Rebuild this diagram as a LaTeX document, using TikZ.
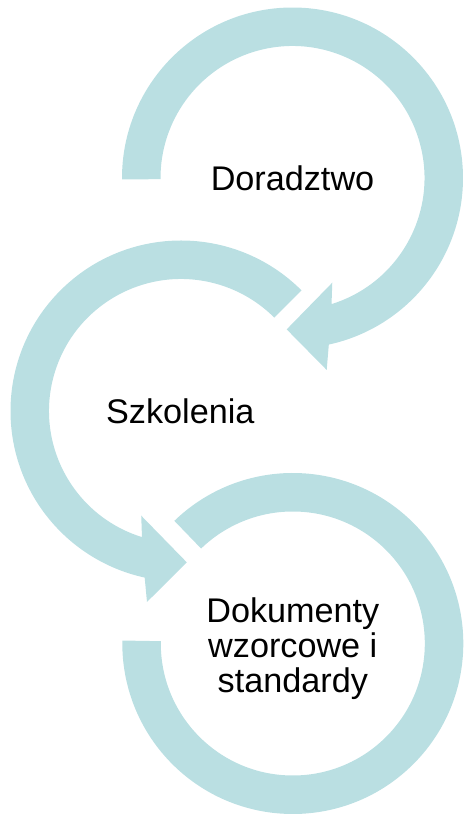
\documentclass[tikz,border=0pt]{standalone}
\usepackage{fontspec}
\setmainfont{Liberation Sans}
\definecolor{arcteal}{RGB}{186,223,226}
\begin{document}
\begin{tikzpicture}[x=1pt,y=1pt,
  arcfill/.style={fill=arcteal,draw=none},
  lbl/.style={inner sep=0pt,font=\fontsize{34.2}{35}\selectfont,text=black,align=center}]
\useasboundingbox (0,0) rectangle (464,814);
\coordinate (C1) at (292.5,636);
\coordinate (C2) at (181,403);
\coordinate (C3) at (292.8,170.5);
% arc 1 (Doradztwo)
\begin{scope}[shift={(C1)}]
\fill[arcfill] (180.5:170.5) arc[start angle=180.5, end angle=-77.7, radius=170.5]
  -- (-79.9:195) -- (-92.2:151.5) -- (-69.2:112) -- (-72.8:132)
  arc[start angle=-72.8, end angle=180.5, radius=132] -- cycle;
\end{scope}
% arc 2 (Szkolenia)
\begin{scope}[shift={(C2)}]
\fill[arcfill] (45:170.5) arc[start angle=45, end angle=257.7, radius=170.5]
  -- (259.9:194) -- (272.2:151.5) -- (249.2:112) -- (252.8:132)
  arc[start angle=252.8, end angle=45, radius=132] -- cycle;
\end{scope}
% arc 3 (Dokumenty)
\begin{scope}[shift={(C3)}]
\fill[arcfill] (134:170.5) arc[start angle=134, end angle=-181, radius=170.5]
  -- (-181:132) arc[start angle=-181, end angle=134, radius=132] -- cycle;
\end{scope}
\node[lbl,anchor=base] (t1) at (292.5,623.3) {Doradztwo};
\node[lbl,anchor=base] (t2) at (180.3,390) {Szkolenia};
\node[lbl] (t3) at (292.8,165.4) {Dokumenty\\wzorcowe i\\standardy};
\end{tikzpicture}
\end{document}
